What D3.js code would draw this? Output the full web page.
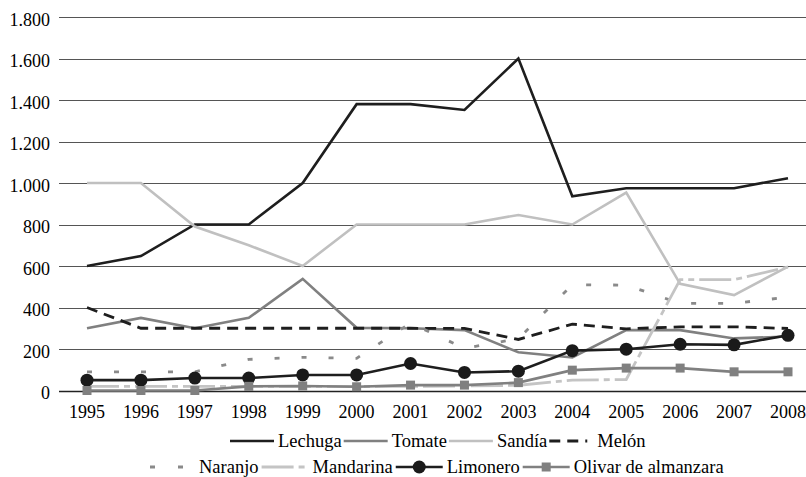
<!DOCTYPE html>
<html><head><meta charset="utf-8">
<script src="https://cdn.jsdelivr.net/npm/d3@7/dist/d3.min.js"></script>
</head><body style="margin:0">
<svg id="chart" width="806" height="477"></svg>
<script>
const years = [1995,1996,1997,1998,1999,2000,2001,2002,2003,2004,2005,2006,2007,2008];
const yTicks = [0,200,400,600,800,1000,1200,1400,1600,1800];
const lechuga   = [600,648,800,800,1000,1380,1380,1352,1600,936,975,975,975,1023];
const tomate    = [300,350,300,350,538,302,300,291,184,159,291,291,251,260];
const sandia    = [1000,1000,790,700,600,800,800,800,846,800,954,514,460,597];
const melon     = [400,300,300,300,300,300,300,299,246,320,297,307,307,299];
const naranjo   = [90,90,90,150,160,155,325,203,250,510,508,420,420,450];
const mandarina = [20,20,20,20,20,20,20,22,25,50,53,534,534,595];
const limonero  = [50,50,60,60,75,75,130,87,93,192,199,223,220,266];
const olivar    = [0,0,0,20,22,18,26,26,38,98,108,108,90,90];
const seriesNames = ["Lechuga","Tomate","Sandía","Melón","Naranjo","Mandarina","Limonero","Olivar de almanzara"];
const seriesValues = [lechuga,tomate,sandia,melon,naranjo,mandarina,limonero,olivar];

const styles = [
  {color:"#1e1e1e", dash:null, w:2.6, marker:null},
  {color:"#808080", dash:null, w:2.6, marker:null},
  {color:"#c0c0c0", dash:null, w:2.6, marker:null},
  {color:"#1e1e1e", dash:"11,7", w:2.8, marker:null, legendDash:"11,7,11,7,2,40"},
  {color:"#8a8a8a", dash:"5,22", w:2.8, marker:null, legendDash:"0,2,5,23,5,40"},
  {color:"#c4c4c4", dash:"32,5,6,5", w:2.8, marker:null},
  {color:"#1e1e1e", dash:null, w:2.6, marker:"circle"},
  {color:"#808080", dash:null, w:2.6, marker:"square"}
];

const svg = d3.select("#chart");
const FONT = "Liberation Serif";
function addText(x0, y0, size, str, anchor){
  const t = svg.append("text").attr("x",x0).attr("y",y0).attr("font-size",size)
    .style("font-family",`"${FONT}", monospace`).text(str);
  const w = t.node().getComputedTextLength();
  if(anchor==="end") t.attr("x", x0 - w);
  if(anchor==="middle") t.attr("x", x0 - w/2);
  return w;
}

const x = d3.scalePoint().domain(years).range([87,788]);
const y = d3.scaleLinear().domain([0,1800]).range([390.5,17]);
const loc = d3.formatLocale({decimal:",", thousands:".", grouping:[3], currency:["","€"]});
const fmt = loc.format(",d");

svg.append("g").selectAll("line").data(yTicks).join("line")
  .attr("x1",59).attr("x2",806)
  .attr("y1",d=>Math.round(y(d))+0.5).attr("y2",d=>Math.round(y(d))+0.5)
  .attr("stroke",d=>d===0?"#222":"#555").attr("stroke-width",d=>d===0?1.6:1.2);

// y labels
yTicks.forEach(d=>addText(50, y(d)+8.8, 18, fmt(d), "end"));
// x labels
years.forEach(d=>addText(x(d), 417.8, 18, String(d), "middle"));

const line = d3.line().x((d,i)=>x(years[i])).y(d=>y(d));

seriesValues.forEach((vals,k)=>{
  const s = styles[k];
  svg.append("path").datum(vals).attr("d",line).attr("fill","none")
    .attr("stroke",s.color).attr("stroke-width",s.w)
    .attr("stroke-dasharray",s.dash).attr("stroke-linejoin","miter");
  if(s.marker==="circle"){
    svg.append("g").selectAll("circle").data(vals).join("circle")
      .attr("cx",(d,i)=>x(years[i])).attr("cy",d=>y(d)).attr("r",6.5).attr("fill","#1a1a1a");
  } else if(s.marker==="square"){
    svg.append("g").selectAll("rect").data(vals).join("rect")
      .attr("x",(d,i)=>x(years[i])-4.5).attr("y",d=>y(d)-4.5).attr("width",9).attr("height",9).attr("fill","#808080");
  }
});

const rows = [{items:[0,1,2,3], start:230, y:441, sym:44, gs:4, gt:2},
              {items:[4,5,6,7], start:148, y:467, sym:47, gs:4, gt:3}];
rows.forEach(r=>{
  let cx = r.start;
  r.items.forEach(k=>{
    const s = styles[k];
    svg.append("line").attr("x1",cx).attr("x2",cx+r.sym).attr("y1",r.y).attr("y2",r.y)
      .attr("stroke",s.color).attr("stroke-width",s.w)
      .attr("stroke-dasharray",s.legendDash||s.dash);
    if(s.marker==="circle") svg.append("circle").attr("cx",cx+r.sym/2).attr("cy",r.y).attr("r",6.5).attr("fill","#1a1a1a");
    if(s.marker==="square") svg.append("rect").attr("x",cx+r.sym/2-4.5).attr("y",r.y-4.5).attr("width",9).attr("height",9).attr("fill","#808080");
    cx += r.sym + r.gs;
    cx += addText(cx, r.y + 5.5, 18.5, seriesNames[k], "start") + r.gt;
  });
});
</script></body></html>
